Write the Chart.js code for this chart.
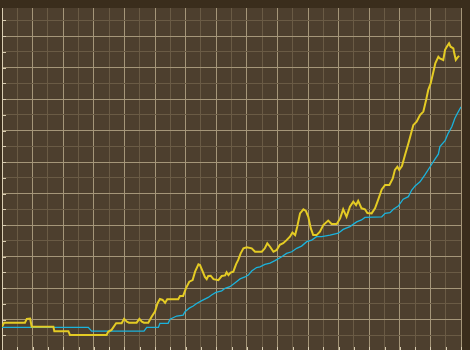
<!DOCTYPE html>
<html>
<head>
<meta charset="utf-8">
<script src="https://cdn.jsdelivr.net/npm/chart.js@4/dist/chart.umd.min.js"></script>
<style>
  html, body { margin: 0; padding: 0; background: #3a2d1c; overflow: hidden; }
  #wrap { position: absolute; left: 0; top: 0; width: 470px; height: 351px; }
</style>
</head>
<body>
<div id="wrap"><canvas id="c"></canvas></div>
<script>
// Yellow series (x in major grid units, y in major grid units)
const yellowX = [0,0.07,0.75,0.81,0.92,0.97,1.68,1.71,2.17,2.22,3.42,3.47,3.58,3.73,3.91,3.99,4.08,4.15,4.40,4.49,4.57,4.64,4.78,4.89,5.00,5.08,5.16,5.25,5.33,5.40,5.76,5.82,5.92,6.01,6.12,6.23,6.31,6.42,6.47,6.56,6.63,6.69,6.74,6.82,6.91,7.07,7.18,7.29,7.34,7.40,7.47,7.56,7.65,7.72,7.80,7.89,8.00,8.16,8.27,8.49,8.59,8.67,8.76,8.87,8.98,9.08,9.19,9.30,9.41,9.49,9.58,9.65,9.74,9.85,9.93,10.01,10.09,10.17,10.28,10.39,10.50,10.66,10.77,10.94,11.05,11.15,11.26,11.37,11.48,11.57,11.64,11.75,11.86,11.94,12.08,12.19,12.30,12.41,12.52,12.66,12.77,12.84,12.92,12.98,13.07,13.17,13.28,13.37,13.44,13.55,13.66,13.77,13.86,13.93,14.01,14.10,14.16,14.26,14.31,14.42,14.48,14.55,14.61,14.66,14.75,14.78,14.83,14.89,14.94];
const yellowY = [0.77,0.90,0.90,1.02,1.03,0.77,0.77,0.63,0.63,0.51,0.51,0.61,0.67,0.88,0.88,1.02,0.93,0.90,0.90,1.02,0.93,0.90,0.90,1.09,1.25,1.51,1.65,1.62,1.53,1.64,1.64,1.75,1.75,1.99,2.20,2.25,2.52,2.75,2.73,2.52,2.35,2.28,2.38,2.39,2.28,2.25,2.38,2.40,2.50,2.41,2.49,2.52,2.76,2.89,3.10,3.26,3.29,3.26,3.15,3.15,3.26,3.42,3.31,3.15,3.21,3.37,3.42,3.52,3.63,3.76,3.68,3.95,4.37,4.50,4.45,4.26,3.90,3.68,3.68,3.79,4.00,4.14,4.03,4.03,4.21,4.50,4.26,4.58,4.74,4.63,4.77,4.53,4.50,4.38,4.37,4.53,4.82,5.13,5.27,5.27,5.48,5.75,5.85,5.75,5.87,6.22,6.59,6.91,7.17,7.28,7.49,7.60,7.97,8.29,8.50,8.87,9.13,9.34,9.29,9.24,9.56,9.68,9.77,9.66,9.61,9.45,9.24,9.32,9.37];

// Cyan series
const cyanX = [0,2.82,2.93,4.64,4.73,5.11,5.16,5.43,5.49,5.71,5.92,5.98,6.12,6.25,6.36,6.53,6.74,6.85,6.99,7.18,7.29,7.45,7.61,7.78,7.94,8.05,8.16,8.32,8.43,8.59,8.76,8.92,9.14,9.30,9.47,9.63,9.79,9.96,10.12,10.28,10.45,10.72,10.99,11.15,11.37,11.59,11.75,11.86,12.41,12.52,12.68,12.79,12.95,13.11,13.28,13.39,13.50,13.66,13.82,13.99,14.15,14.26,14.31,14.48,14.58,14.70,14.80,14.88,14.97,15.0];
const cyanY = [0.75,0.75,0.63,0.63,0.75,0.75,0.88,0.88,1.01,1.11,1.14,1.25,1.36,1.43,1.51,1.60,1.70,1.78,1.86,1.91,1.99,2.04,2.16,2.29,2.35,2.41,2.54,2.65,2.67,2.75,2.79,2.87,2.99,3.10,3.15,3.26,3.33,3.47,3.52,3.63,3.63,3.68,3.74,3.86,3.95,4.10,4.16,4.24,4.26,4.37,4.39,4.50,4.60,4.82,4.90,5.11,5.24,5.37,5.59,5.85,6.09,6.25,6.49,6.68,6.91,7.12,7.39,7.54,7.70,7.75];

// Axis ranges
const xMin = 0, xMax = 15, xStep = 0.5;
const yMin = 0, yMax = 10.889, yStep = 0.5;

const toPoints = (xs, ys) => xs.map((x, i) => ({ x: x, y: ys[i] }));

const PLOT_BG = '#4d3f2e';
const MAJOR = '#a59679';
const MINOR = '#6a5b45';
const AXIS = '#d9cdb2';

const gridColor = (ctx) => {
  if (!ctx.tick) return MINOR;
  const v = ctx.tick.value;
  if (ctx.scale.axis === 'x' && Math.abs(v - xMin) < 1e-6) return AXIS;
  return Math.abs(v - Math.round(v)) < 1e-6 ? MAJOR : MINOR;
};

const bgPlugin = {
  id: 'plotbg',
  beforeDraw(chart) {
    const a = chart.chartArea, c = chart.ctx;
    c.save();
    c.fillStyle = PLOT_BG;
    c.fillRect(a.left, a.top, a.right - a.left, a.bottom - a.top);
    c.restore();
  },
  afterDatasetsDraw(chart) {
    const c = chart.ctx, a = chart.chartArea;
    const xs = chart.scales.x, ys = chart.scales.y;
    c.save();
    c.strokeStyle = AXIS;
    c.lineWidth = 1;
    c.beginPath();
    ys.ticks.forEach(t => {
      const py = Math.round(ys.getPixelForValue(t.value)) + 0.5;
      c.moveTo(a.left, py); c.lineTo(a.left + 4, py);
    });
    xs.ticks.forEach(t => {
      const px = Math.round(xs.getPixelForValue(t.value)) + 0.5;
      c.moveTo(px, a.bottom); c.lineTo(px, a.bottom - 4);
    });
    c.stroke();
    c.restore();
  }
};

new Chart(document.getElementById('c'), {
  type: 'line',
  data: {
    datasets: [
      { data: toPoints(yellowX, yellowY), borderColor: '#e4cb24', borderWidth: 2, pointRadius: 0, tension: 0, fill: false },
      { data: toPoints(cyanX, cyanY), borderColor: '#1bb3dc', borderWidth: 1.3, pointRadius: 0, tension: 0, fill: false }
    ]
  },
  options: {
    responsive: true,
    maintainAspectRatio: false,
    animation: false,
    layout: { padding: { left: 2, right: 9, top: 8, bottom: 0 } },
    plugins: { legend: { display: false }, tooltip: { enabled: false } },
    scales: {
      x: {
        type: 'linear', min: xMin, max: xMax,
        ticks: { display: false, stepSize: xStep, includeBounds: false },
        grid: { color: gridColor, drawTicks: false, lineWidth: 1 },
        border: { display: false }
      },
      y: {
        type: 'linear', min: yMin, max: yMax,
        ticks: { display: false, stepSize: yStep, includeBounds: false },
        grid: { color: gridColor, drawTicks: false, lineWidth: 1 },
        border: { display: true, color: AXIS, width: 1 }
      }
    }
  },
  plugins: [bgPlugin]
});
</script>
</body>
</html>
